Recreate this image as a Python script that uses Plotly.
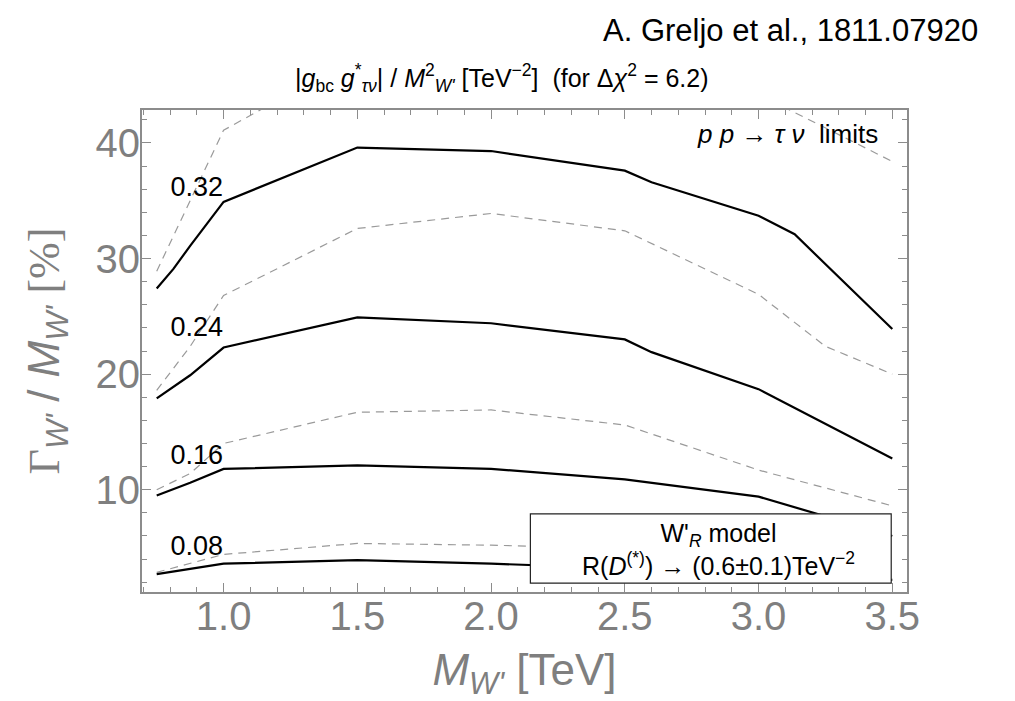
import plotly.graph_objects as go

# ---- data ----
solid_032_x = [0.75, 0.8125, 0.875, 1.0, 1.5, 2.0, 2.5, 2.6, 3.0, 3.135, 3.5]
solid_032_y = [27.4, 29.1, 31.1, 34.9, 39.6, 39.3, 37.6, 36.6, 33.7, 32.1, 23.9]

solid_024_x = [0.75, 0.875, 1.0, 1.5, 2.0, 2.5, 2.6, 3.0, 3.5]
solid_024_y = [17.9, 19.9, 22.3, 24.9, 24.4, 23.0, 21.9, 18.7, 12.7]

solid_016_x = [0.75, 0.875, 1.0, 1.5, 2.0, 2.5, 3.0, 3.5]
solid_016_y = [9.5, 10.6, 11.8, 12.1, 11.8, 10.9, 9.4, 6.0]

solid_008_x = [0.75, 1.0, 1.5, 2.0, 2.5, 3.0, 3.5]
solid_008_y = [2.7, 3.6, 3.9, 3.6, 3.2, 2.7, 2.2]

dash_032_x = [0.75, 1.0, 1.5, 2.0, 2.5, 3.0, 3.5]
dash_032_y = [28.9, 41.1, 47.5, 48.0, 47.0, 44.2, 38.4]

dash_024_x = [0.75, 0.875, 1.0, 1.5, 2.0, 2.5, 3.0, 3.25, 3.5]
dash_024_y = [18.6, 22.4, 26.8, 32.6, 33.9, 32.4, 26.9, 22.4, 20.0]

dash_016_x = [0.75, 0.875, 1.0, 1.5, 2.0, 2.5, 3.0, 3.5]
dash_016_y = [10.0, 11.4, 14.0, 16.7, 16.9, 15.6, 11.7, 8.6]

dash_008_x = [0.75, 1.0, 1.5, 2.0, 2.5, 3.0, 3.5]
dash_008_y = [2.85, 4.4, 5.35, 5.2, 4.9, 4.3, 3.6]

contour_labels = ["0.32", "0.24", "0.16", "0.08"]
label_x = [0.9, 0.9, 0.9, 0.9]
label_y = [36.0, 23.9, 12.8, 4.9]

x_ticks = [1.0, 1.5, 2.0, 2.5, 3.0, 3.5]
x_ticktext = ["1.0", "1.5", "2.0", "2.5", "3.0", "3.5"]
y_ticks = [10, 20, 30, 40]
y_ticktext = ["10", "20", "30", "40"]

# ---- figure ----
fig = go.Figure()

dashed = [(dash_032_x, dash_032_y), (dash_024_x, dash_024_y),
          (dash_016_x, dash_016_y), (dash_008_x, dash_008_y)]
for xs, ys in dashed:
    fig.add_trace(go.Scatter(x=xs, y=ys, mode="lines",
                             line=dict(color="#9a9a9a", width=1.2, dash="8px,6px"),
                             showlegend=False, hoverinfo="skip"))

solid = [(solid_032_x, solid_032_y), (solid_024_x, solid_024_y),
         (solid_016_x, solid_016_y), (solid_008_x, solid_008_y)]
for xs, ys in solid:
    fig.add_trace(go.Scatter(x=xs, y=ys, mode="lines",
                             line=dict(color="black", width=2.2),
                             showlegend=False, hoverinfo="skip"))

fig.add_trace(go.Scatter(x=label_x, y=label_y, mode="text", text=contour_labels,
                         textfont=dict(family="Liberation Sans", size=27, color="black"),
                         showlegend=False, hoverinfo="skip"))

FR = "#8c8c8c"
TK = "#7f7f7f"

fig.update_layout(
    width=1015, height=701,
    margin=dict(l=142, r=108, t=110, b=104),
    paper_bgcolor="white", plot_bgcolor="white",
    font=dict(family="Liberation Sans", color="black"),
    xaxis=dict(
        range=[0.695, 3.555], showgrid=False, zeroline=False,
        showline=True, linecolor=FR, linewidth=2, mirror="allticks",
        ticks="inside", ticklen=9, tickwidth=1.3, tickcolor=FR,
        tickvals=x_ticks, ticktext=x_ticktext,
        tickfont=dict(family="Liberation Sans", size=40, color=TK),
        ticklabelstandoff=-12,
        minor=dict(ticks="inside", dtick=0.1, tick0=0.0, ticklen=5,
                   tickwidth=1.2, tickcolor=FR, showgrid=False),
        title=dict(text="<i>M</i><sub><i>W'</i></sub> [TeV]",
                   font=dict(family="Liberation Sans", size=44, color=TK),
                   standoff=20),
    ),
    yaxis=dict(
        range=[1.15, 42.85], showgrid=False, zeroline=False,
        showline=True, linecolor=FR, linewidth=2, mirror="allticks",
        ticks="inside", ticklen=9, tickwidth=1.3, tickcolor=FR,
        tickvals=y_ticks, ticktext=y_ticktext,
        tickfont=dict(family="Liberation Sans", size=40, color=TK),
        ticklabelstandoff=-8,
        minor=dict(ticks="inside", dtick=2, tick0=0, ticklen=5,
                   tickwidth=1.2, tickcolor=FR, showgrid=False),
        title=dict(text="<span style='font-family:Liberation Serif'>Γ</span><sub><i>W'</i></sub> / <i>M</i><sub><i>W'</i></sub> <span style='font-family:Liberation Serif'>[%]</span>",
                   font=dict(family="Liberation Sans", size=44, color=TK),
                   standoff=22),
    ),
)

# legend-like box (white, covers lines)
fig.add_shape(type="rect", xref="x", yref="y", x0=2.147, x1=3.496, y0=1.91, y1=7.91,
              fillcolor="white", line=dict(color="#222222", width=1.2), layer="above")
fig.add_annotation(xref="x", yref="y", x=2.85, y=4.85, showarrow=False,
                   text="W'<sub><i>R</i></sub> model<br>R(<i>D</i><sup>(*)</sup>) → (0.6±0.1)TeV<sup>−2</sup>",
                   font=dict(family="Liberation Sans", size=25, color="black"),
                   align="center")

# in-plot label
fig.add_annotation(xref="paper", yref="paper", x=0.965, y=0.985, xanchor="right", yanchor="top",
                   showarrow=False,
                   text="<i>p p</i> → <i>τ ν</i>  limits",
                   font=dict(family="Liberation Sans", size=26, color="black"))

# top title
fig.add_annotation(xref="paper", yref="paper", x=0.47, y=1.0, xanchor="center", yanchor="bottom",
                   yshift=12, showarrow=False,
                   text="|<i>g</i><sub>bc</sub> <i>g</i><sup>*</sup><sub><i>τν</i></sub>| / <i>M</i><sup>2</sup><sub><i>W'</i></sub> [TeV<sup>−2</sup>]  (for Δ<i>χ</i><sup>2</sup> = 6.2)",
                   font=dict(family="Liberation Sans", size=25, color="black"))

# author credit
fig.add_annotation(xref="paper", yref="paper", x=1.0, y=1.0, xanchor="right", yanchor="bottom",
                   xshift=73, yshift=60, showarrow=False,
                   text="A. Greljo et al., 1811.07920",
                   font=dict(family="Liberation Sans", size=31, color="black"))

fig.write_html("out.html")
